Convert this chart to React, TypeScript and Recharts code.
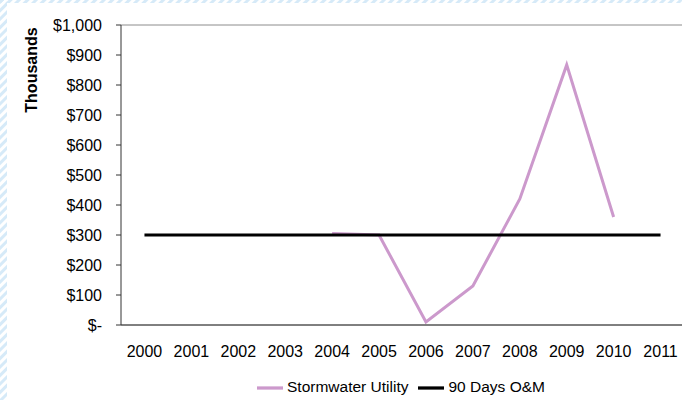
import React from "react";
import {
  LineChart,
  Line,
  XAxis,
  YAxis,
  Legend,
  ReferenceLine,
} from "recharts";

const years = [2000, 2001, 2002, 2003, 2004, 2005, 2006, 2007, 2008, 2009, 2010, 2011];
const stormwater = [null, null, null, null, 305, 300, 10, 130, 420, 867, 360, null];
const omReserve = [300, 300, 300, 300, 300, 300, 300, 300, 300, 300, 300, 300];
const yTicks = [0, 100, 200, 300, 400, 500, 600, 700, 800, 900, 1000];
const bandEdges = [1999.5, 2000.5, 2001.5, 2002.5, 2003.5, 2004.5, 2005.5, 2006.5, 2007.5, 2008.5, 2009.5, 2010.5, 2011.5];
const legendOrder = ["storm", "om"];

const data = years.map((year, i) => ({
  year,
  storm: stormwater[i],
  om: omReserve[i],
}));

const FONT = "'Liberation Sans', Arial, sans-serif";

const fmtDollar = (v: number) => (v === 0 ? "$-" : "$" + v.toLocaleString("en-US"));

function AxisTitle(props: any) {
  const vb = props.viewBox || { x: 0, y: 0 };
  const cx = vb.x + 31;
  const cy = vb.y + 45;
  return (
    <text
      x={cx}
      y={cy}
      transform={`rotate(-90, ${cx}, ${cy})`}
      textAnchor="middle"
      dominantBaseline="central"
      fontSize={16}
      fontWeight="bold"
      fill="#000"
      fontFamily={FONT}
    >
      Thousands
    </text>
  );
}

export default function App() {
  return (
    <div
      style={{
        position: "absolute",
        left: 0,
        top: 0,
        width: 682,
        height: 400,
        overflow: "hidden",
        background: "#fff",
        fontFamily: FONT,
      }}
    >
      <svg width={682} height={400} style={{ position: "absolute", left: 0, top: 0 }}>
        <defs>
          <pattern id="hatch" width="6" height="6" patternUnits="userSpaceOnUse" patternTransform="rotate(45)">
            <rect width="3" height="6" fill="#d6eaf8" />
          </pattern>
        </defs>
        <rect x={0} y={0} width={682} height={3} fill="url(#hatch)" />
        <rect x={0} y={0} width={7} height={400} fill="url(#hatch)" />
      </svg>
      <div style={{ position: "absolute", left: 0, top: 0 }}>
        <LineChart
          width={684}
          height={400}
          data={data}
          margin={{ top: 25, right: 0, left: 0, bottom: 35 }}
        >
          <ReferenceLine y={1000} stroke="#8c8c8c" strokeWidth={1} />
          <XAxis
            xAxisId="edges"
            type="number"
            domain={[1999.5, 2011.5]}
            ticks={bandEdges}
            height={0}
            axisLine={false}
            tickLine={{ stroke: "#222" }}
            tickSize={6}
            tickFormatter={() => ""}
          />
          <XAxis
            dataKey="year"
            type="number"
            domain={[1999.5, 2011.5]}
            ticks={years}
            height={40}
            axisLine={{ stroke: "#000", strokeWidth: 1 }}
            tickLine={false}
            tickSize={6}
            tickMargin={15}
            tick={{ fontSize: 16, fill: "#000", fontFamily: FONT }}
            interval={0}
          />
          <YAxis
            domain={[0, 1000]}
            ticks={yTicks}
            width={121}
            interval={0}
            axisLine={{ stroke: "#333" }}
            tickLine={{ stroke: "#333" }}
            tickSize={5}
            tickMargin={14}
            tickFormatter={fmtDollar}
            tick={{ fontSize: 16, fill: "#000", fontFamily: FONT }}
            label={<AxisTitle />}
          />
          <Legend
            verticalAlign="middle"
            align="center"
            layout="horizontal"
            iconType="plainline"
            iconSize={26}
            itemSorter={(item: any) => legendOrder.indexOf(item.dataKey)}
            wrapperStyle={{ left: 236, top: 375, width: 340, textAlign: "left", fontSize: 15.5, fontFamily: FONT }}
            formatter={(value: string) => <span style={{ color: "#000" }}>{value}</span>}
          />
          <Line
            dataKey="storm"
            name="Stormwater Utility"
            stroke="#cc99cc"
            strokeWidth={3}
            dot={false}
            activeDot={false}
            isAnimationActive={false}
          />
          <Line
            dataKey="om"
            name="90 Days O&M"
            stroke="#000"
            strokeWidth={3}
            dot={false}
            activeDot={false}
            isAnimationActive={false}
          />
        </LineChart>
      </div>
    </div>
  );
}
